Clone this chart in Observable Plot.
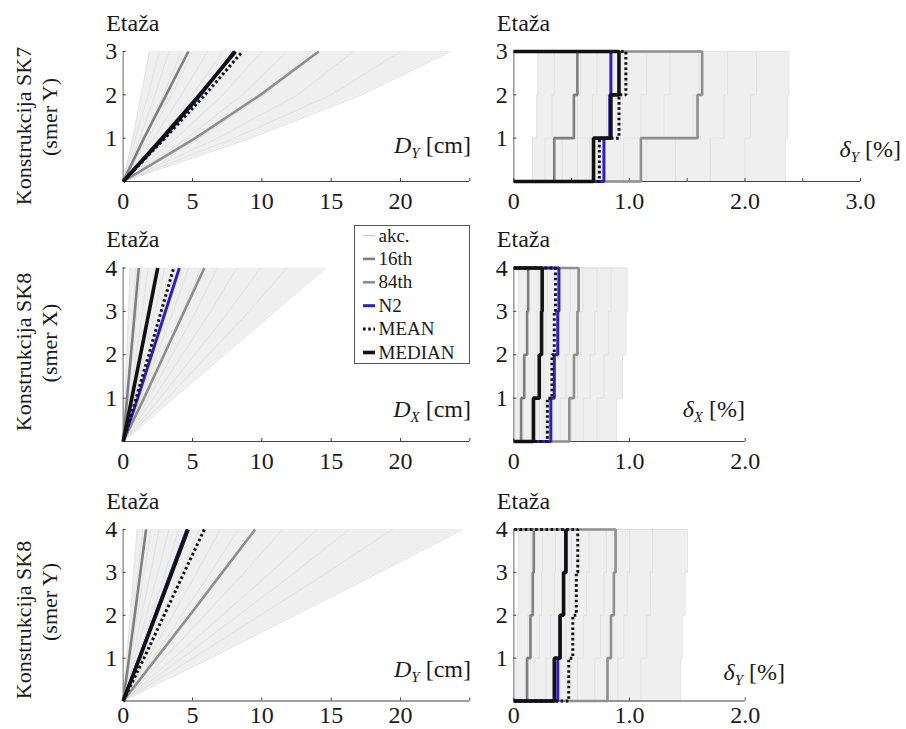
<!DOCTYPE html>
<html><head><meta charset="utf-8">
<script src="https://cdn.jsdelivr.net/npm/d3@7"></script>
<script src="https://cdn.jsdelivr.net/npm/@observablehq/plot@0.6"></script>
<style>
body{margin:0;background:#fff;}
#root{position:relative;width:906px;height:729px;overflow:hidden;font-family:"Liberation Serif","Times New Roman",serif;}
#root svg{position:absolute;overflow:visible;}
text{white-space:pre;}
</style></head><body><div id="root"></div>
<script>
// ---------- texts ----------
const yTitle = "Etaža";
const rowLabels1 = ["Konstrukcija SK7", "Konstrukcija SK8", "Konstrukcija SK8"];
const rowLabels2 = ["(smer Y)", "(smer X)", "(smer Y)"];
const dispLabels = [["D","Y"," [cm]"],["D","X"," [cm]"],["D","Y"," [cm]"]];
const driftLabels = [["δ","Y"," [%]"],["δ","X"," [%]"],["δ","Y"," [%]"]];
const legendLabels = ["akc.","16th","84th","N2","MEAN","MEDIAN"];
const dispTicks = [0,5,10,15,20,25];
const driftTicksTop = [0,0.5,1,1.5,2,2.5,3];
const driftTicksLow = [0,1,2];

// ---------- SK7 smer Y : displacement (value at floor 0..3) ----------
const sk7yDispAkc = [
 [0,0.7,1.3,1.9],[0,0.9,1.8,2.6],[0,1.2,2.3,3.3],[0,1.5,2.9,4.2],[0,1.8,3.5,5.0],
 [0,2.2,4.2,6.1],[0,2.6,5.0,7.2],[0,3.2,6.1,8.6],[0,3.8,7.2,10.0],[0,4.6,8.6,11.8],
 [0,5.5,10.2,13.6],[0,6.8,12.6,16.6],[0,8.0,15.0,20.0],[0,9.2,17.2,23.6]
];
const sk7yDispP16 = [0,1.5,3.1,4.7];
const sk7yDispP84 = [0,5.2,9.9,14.1];
const sk7yDispN2 = [0,2.9,5.6,8.0];
const sk7yDispMean = [0,3.0,5.9,8.6];
const sk7yDispMedian = [0,2.8,5.5,8.1];

// ---------- SK7 smer Y : drift [%] (story 1..3) ----------
const sk7yDriftAkc = [
 [0.16,0.20,0.21],[0.27,0.33,0.35],[0.42,0.55,0.58],[0.55,0.68,0.72],[0.66,0.80,0.85],
 [0.78,0.92,0.96],[0.95,1.10,1.15],[1.15,1.30,1.35],[1.40,1.55,1.60],[1.70,1.82,1.85],
 [2.00,2.05,2.10],[2.35,2.37,2.38]
];
const sk7yDriftP16 = [0.35,0.52,0.55];
const sk7yDriftP84 = [1.10,1.59,1.63];
const sk7yDriftN2 = [0.78,0.83,0.84];
const sk7yDriftMean = [0.74,0.91,0.97];
const sk7yDriftMedian = [0.69,0.84,0.91];

// ---------- SK8 smer X : displacement (floor 0..4) ----------
const sk8xDispAkc = [
 [0,0.14,0.26,0.39,0.5],[0,0.24,0.47,0.69,0.9],[0,0.35,0.68,1.0,1.3],[0,0.49,0.94,1.39,1.8],
 [0,0.62,1.2,1.77,2.3],[0,0.81,1.56,2.31,3.0],[0,1.03,1.98,2.93,3.8],[0,1.27,2.44,3.62,4.7],
 [0,1.51,2.91,4.31,5.6],[0,1.84,3.54,5.24,6.8],[0,2.21,4.26,6.31,8.2],[0,2.67,5.15,7.62,9.9],
 [0,3.19,6.14,9.09,11.8],[0,3.65,7.3,10.95,14.6]
];
const sk8xDispP16 = [0,0.28,0.56,0.84,1.12];
const sk8xDispP84 = [0,1.5,2.95,4.4,5.85];
const sk8xDispN2 = [0,1.05,2.05,3.05,4.05];
const sk8xDispMean = [0,0.93,1.84,2.74,3.64];
const sk8xDispMedian = [0,0.62,1.25,1.87,2.49];

// ---------- SK8 smer X : drift [%] (story 1..4) ----------
const sk8xDriftAkc = [
 [0.02,0.03,0.04,0.04],[0.08,0.10,0.12,0.13],[0.15,0.18,0.20,0.21],[0.22,0.26,0.28,0.29],
 [0.30,0.34,0.37,0.38],[0.40,0.45,0.48,0.49],[0.50,0.55,0.58,0.60],[0.60,0.66,0.70,0.72],
 [0.72,0.78,0.82,0.84],[0.89,0.94,0.97,0.98]
];
const sk8xDriftP16 = [0.063,0.09,0.115,0.124];
const sk8xDriftP84 = [0.48,0.52,0.55,0.56];
const sk8xDriftN2 = [0.32,0.35,0.38,0.39];
const sk8xDriftMean = [0.29,0.33,0.35,0.36];
const sk8xDriftMedian = [0.17,0.22,0.24,0.245];

// ---------- SK8 smer Y : displacement (floor 0..4) ----------
const sk8yDispAkc = [
 [0,0.26,0.51,0.76,1.0],[0,0.36,0.71,1.06,1.4],[0,0.52,1.02,1.52,2.0],[0,0.68,1.33,1.98,2.6],
 [0,0.86,1.68,2.51,3.3],[0,1.04,2.04,3.04,4.0],[0,1.43,2.81,4.18,5.5],[0,1.82,3.57,5.32,7.0],
 [0,2.16,4.23,6.31,8.3],[0,2.99,5.87,8.74,11.5],[0,3.64,7.14,10.64,14.0],[0,4.24,8.31,12.39,16.3],
 [0,5.04,9.89,14.74,19.4],[0,6.3,12.4,18.5,24.5]
];
const sk8yDispP16 = [0,0.42,0.83,1.24,1.65];
const sk8yDispP84 = [0,2.4,4.8,7.15,9.52];
const sk8yDispN2 = [0,1.15,2.3,3.45,4.6];
const sk8yDispMean = [0,1.5,2.95,4.4,5.85];
const sk8yDispMedian = [0,1.18,2.35,3.52,4.68];

// ---------- SK8 smer Y : drift [%] (story 1..4) ----------
const sk8yDriftAkc = [
 [0.02,0.03,0.04,0.04],[0.10,0.12,0.14,0.15],[0.18,0.22,0.24,0.25],[0.28,0.32,0.35,0.36],
 [0.40,0.45,0.48,0.50],[0.55,0.60,0.63,0.65],[0.70,0.75,0.78,0.80],[0.90,0.95,0.98,1.00],
 [1.10,1.15,1.18,1.20],[1.44,1.455,1.48,1.50]
];
const sk8yDriftP16 = [0.115,0.144,0.164,0.173];
const sk8yDriftP84 = [0.81,0.84,0.865,0.88];
const sk8yDriftN2 = [0.38,0.40,0.43,0.45];
const sk8yDriftMean = [0.475,0.51,0.54,0.553];
const sk8yDriftMedian = [0.35,0.40,0.43,0.45];

// ---------- styles ----------
const FONT = '"Liberation Serif", "Times New Roman", serif';
const styles = {
  "akc.":   {stroke:"#e2e2e2", width:1, dash:null},
  "16th":   {stroke:"#7f7f7f", width:2.6, dash:null},
  "84th":   {stroke:"#8f8f8f", width:2.6, dash:null},
  "N2":     {stroke:"#2d1fc4", width:3, dash:null},
  "MEAN":   {stroke:"#111", width:3, dash:"2.6,2.6"},
  "MEDIAN": {stroke:"#111", width:3.6, dash:null}
};
const fillColor = "#efefef";

const root = document.getElementById("root");
function place(el, x, y){ el.style.position="absolute"; el.style.left=x+"px"; el.style.top=y+"px"; root.appendChild(el); }

const fmtDisp = d => d === 25 ? "" : String(d);
const fmtDrift = d => d === 0 ? "0" : (Number.isInteger(d) ? d.toFixed(1) : "");

function dispPoints(vals){ return vals.map((v,i)=>({x:v, y:i})); }
function driftPoints(vals, openTop){
  const n = vals.length, pts = [{x:0,y:0}];
  vals.forEach((v,i)=>{ pts.push({x:v,y:i}); pts.push({x:v,y:i+1}); });
  if (!openTop) pts.push({x:0,y:n});
  return pts;
}

const panels = [
 {box:[0,0,480,230], fx:[122.7,469.3], fy:[51,181], type:"disp", n:3, xDomain:[0,25], xTicks:dispTicks, fmt:fmtDisp, pad:10,
  akc:sk7yDispAkc, series:[sk7yDispP16,sk7yDispP84,sk7yDispN2,sk7yDispMedian,sk7yDispMean], label:dispLabels[0], lr:471, lb:153, row:0},
 {box:[480,0,426,230], fx:[513.3,860], fy:[51,181], type:"drift", n:3, xDomain:[0,3], xTicks:driftTicksTop, fmt:fmtDrift, pad:10,
  akc:sk7yDriftAkc, series:[sk7yDriftP16,sk7yDriftP84,sk7yDriftN2,sk7yDriftMedian,sk7yDriftMean], label:driftLabels[0], lr:901, lb:157},
 {box:[0,230,480,240], fx:[122.7,469.3], fy:[267.5,441], type:"disp", n:4, xDomain:[0,25], xTicks:dispTicks, fmt:fmtDisp, pad:10,
  akc:sk8xDispAkc, series:[sk8xDispP16,sk8xDispP84,sk8xDispN2,sk8xDispMedian,sk8xDispMean], label:dispLabels[1], lr:471, lb:417, row:1},
 {box:[480,230,426,240], fx:[513.3,744.7], fy:[267.5,441], type:"drift", n:4, xDomain:[0,2], xTicks:driftTicksLow, fmt:fmtDrift, pad:10,
  akc:sk8xDriftAkc, series:[sk8xDriftP16,sk8xDriftP84,sk8xDriftN2,sk8xDriftMedian,sk8xDriftMean], label:driftLabels[1], lr:745, lb:417},
 {box:[0,470,480,259], fx:[122.7,469.3], fy:[529,700.5], type:"disp", n:4, xDomain:[0,25], xTicks:dispTicks, fmt:fmtDisp, pad:5,
  akc:sk8yDispAkc, series:[sk8yDispP16,sk8yDispP84,sk8yDispN2,sk8yDispMedian,sk8yDispMean], label:dispLabels[2], lr:471, lb:677, row:2},
 {box:[480,470,426,259], fx:[513.3,744.7], fy:[529,700.5], type:"drift", n:4, xDomain:[0,2], xTicks:driftTicksLow, fmt:fmtDrift, pad:5,
  akc:sk8yDriftAkc, series:[sk8yDriftP16,sk8yDriftP84,sk8yDriftN2,sk8yDriftMedian,sk8yDriftMean], label:driftLabels[2], lr:785, lb:680, openTop:["N2","MEDIAN"]}
];
const seriesOrder = ["16th","84th","N2","MEDIAN","MEAN"];
const rowCenters = [[126,117],[352,343],[620,602]];

panels.forEach(p => {
  const [bx,by,bw,bh] = p.box;
  const mL = p.fx[0]-bx, mR = bx+bw-p.fx[1], mT = p.fy[0]-by, mB = by+bh-p.fy[1];
  const toPts = p.type === "disp" ? dispPoints : driftPoints;
  let env;
  if (p.type === "disp") {
    env = d3.range(p.n+1).map(i => ({y:i, x1:d3.min(p.akc, r=>r[i]), x2:d3.max(p.akc, r=>r[i])}));
  } else {
    env = [];
    d3.range(p.n).forEach(s => {
      const lo = d3.min(p.akc, r=>r[s]), hi = d3.max(p.akc, r=>r[s]);
      env.push({y:s, x1:lo, x2:hi}); env.push({y:s+1, x1:lo, x2:hi});
    });
  }
  const akcLines = p.akc.flatMap((r,k)=>toPts(r).map(d=>({...d, id:k})));
  const marks = [
    Plot.areaX(env, {y:"y", x1:"x1", x2:"x2", fill:fillColor}),
    Plot.line(akcLines, {x:"x", y:"y", z:"id", stroke:styles["akc."].stroke, strokeWidth:1}),
    Plot.ruleX([0], {stroke:"#9a9a9a", strokeWidth:1.5}),
    Plot.ruleY([0], {stroke:"#444", strokeWidth:1.2}),
    Plot.ruleX(p.xTicks, {x:d=>d, y1:0, y2:0, insetTop:-3, stroke:"#444"}),
    Plot.ruleY(d3.range(1,p.n+1), {y:d=>d, x1:0, x2:0, insetRight:-3, stroke:"#444"})
  ];
  p.series.forEach((vals, j) => {
    const name = seriesOrder[j], st = styles[name];
    const pts = toPts(vals, (p.openTop || []).includes(name));
    marks.push(Plot.line(pts, {x:"x", y:"y", stroke:st.stroke, strokeWidth:st.width,
      strokeDasharray:st.dash || undefined, strokeLinejoin:"miter", strokeLinecap:"butt"}));
  });
  const svg = Plot.plot({
    width:bw, height:bh, marginLeft:mL, marginRight:mR, marginTop:mT, marginBottom:mB,
    style:{fontFamily:FONT, fontSize:"24px", color:"#1a1a1a", background:"transparent", overflow:"visible"},
    x:{domain:p.xDomain, ticks:p.xTicks, tickFormat:p.fmt, tickSize:0, tickPadding:p.pad, label:null},
    y:{domain:[0,p.n], ticks:d3.range(1,p.n+1), tickFormat:d=>String(d), tickSize:0, tickPadding:6, label:null},
    marks
  });
  place(svg, bx, by);
  const s = d3.select(svg);
  s.append("text").attr("text-anchor","start").attr("x", mL-16.5).attr("y", mT-20.5).attr("font-size",24)
    .attr("fill","#1a1a1a").attr("font-family",FONT).text(yTitle);
  const t = s.append("text").attr("text-anchor","end").attr("x", p.lr-bx).attr("y", p.lb-by)
    .attr("font-size",24).attr("fill","#1a1a1a").attr("font-family",FONT);
  t.append("tspan").attr("font-style","italic").text(p.label[0]);
  t.append("tspan").attr("font-style","italic").attr("font-size",15).attr("dy",5).text(p.label[1]);
  t.append("tspan").attr("dy",-5).text(p.label[2]);
  if (p.row !== undefined) {
    const [c1,c2] = rowCenters[p.row];
    s.append("text").attr("transform",`translate(${31-bx},${c1-by}) rotate(-90)`).attr("text-anchor","middle")
      .attr("font-size",22).attr("font-family",FONT).attr("fill","#1a1a1a").text(rowLabels1[p.row]);
    s.append("text").attr("transform",`translate(${57-bx},${c2-by}) rotate(-90)`).attr("text-anchor","middle")
      .attr("font-size",22).attr("font-family",FONT).attr("fill","#1a1a1a").text(rowLabels2[p.row]);
  }
});

// ---------- legend ----------
const legendItems = legendLabels.map((lab,i)=>({lab, i, ...styles[lab]}));
const legendMarks = [Plot.frame({stroke:"#555", strokeWidth:1})];
legendItems.forEach(d => {
  legendMarks.push(Plot.ruleY([d], {y:e=>10+e.i*23.4, x1:9, x2:21,
    stroke: d.lab === "akc." ? "#d0d0d0" : d.stroke, strokeWidth: Math.max(1.5, d.width),
    strokeDasharray: d.dash || undefined, strokeLinecap:"butt"}));
});
legendMarks.push(Plot.text(legendItems, {x:24, y:d=>10+d.i*23.4, text:"lab", textAnchor:"start", fill:"#1a1a1a", fontSize:19}));
const legend = Plot.plot({
  width:115, height:138, margin:0,
  style:{fontFamily:FONT, fontSize:"19px", background:"#fff", overflow:"visible"},
  x:{domain:[0,115], range:[0,115], axis:null},
  y:{domain:[0,138], range:[0,138], axis:null},
  marks:legendMarks
});
place(legend, 354, 225);
</script></body></html>
